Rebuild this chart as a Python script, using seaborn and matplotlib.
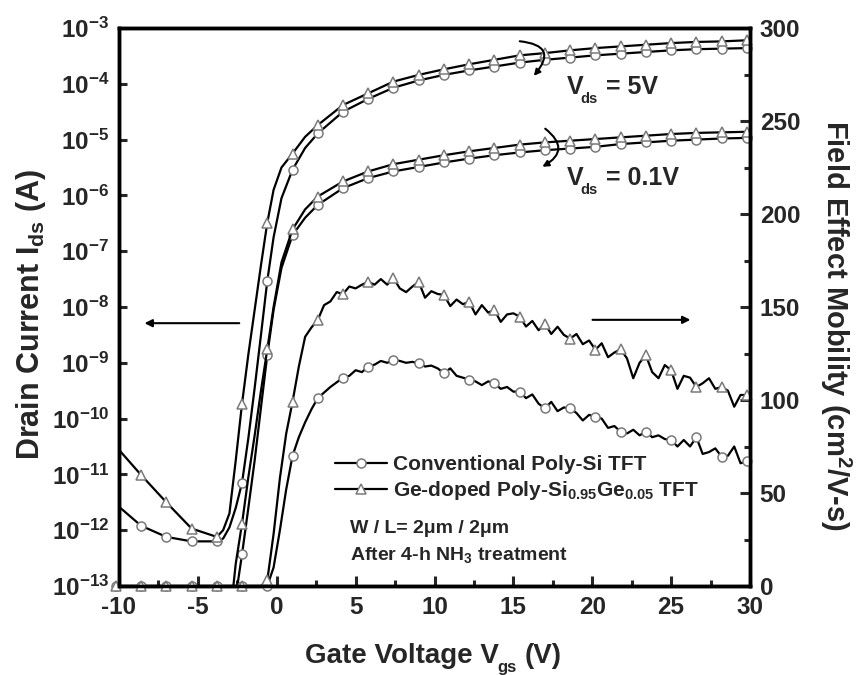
import numpy as np
import matplotlib
matplotlib.use('Agg')
import matplotlib.pyplot as plt
import seaborn as sns
from matplotlib.lines import Line2D
from matplotlib.patches import FancyArrowPatch
from matplotlib.ticker import MultipleLocator, NullLocator

sns.set_style('ticks')
plt.rcParams['font.family'] = ['Liberation Sans', 'DejaVu Sans']
plt.rcParams['font.weight'] = 'bold'
plt.rcParams['mathtext.fontset'] = 'custom'
plt.rcParams['mathtext.rm'] = 'Liberation Sans:bold'
plt.rcParams['mathtext.it'] = 'Liberation Sans:bold'
plt.rcParams['mathtext.bf'] = 'Liberation Sans:bold'
plt.rcParams['mathtext.default'] = 'rm'
plt.rcParams['axes.unicode_minus'] = False

# ---------------- data ----------------
# markers sit on the grid -10.2 + 1.6*k
MARK_X0 = -10.2
MARK_STEP = 1.6

x_hi = [1.0, 1.8, 2.6, 4.2, 5.8, 7.4, 9.0, 10.6, 12.2, 13.8, 15.4, 17.0,
        18.6, 20.2, 21.8, 23.4, 25.0, 26.6, 28.2, 29.8]

# Vds = 5 V transfer curves (log10 of Ids in A)
conv5_x = [-10.0, -8.6, -7.0, -5.4, -3.8, -3.4, -3.0, -2.6, -2.2, -1.8, -1.4,
           -1.0, -0.6, -0.2, 0.3] + x_hi
conv5_log = [-11.58, -11.92, -12.12, -12.2, -12.2, -12.15, -11.95, -11.6, -11.15,
             -10.35, -9.45, -8.5, -7.53, -6.75, -6.05,
             -5.54, -5.15, -4.89, -4.5, -4.27, -4.07, -3.94, -3.84, -3.76, -3.69,
             -3.62, -3.57, -3.53, -3.49, -3.46, -3.43, -3.40, -3.38, -3.37, -3.36]
ge5_x = [-10.0, -8.6, -7.0, -5.4, -3.8, -3.4, -3.0, -2.6, -2.2, -1.8, -1.4,
         -1.0, -0.6, -0.2, 0.3] + x_hi
ge5_log = [-10.56, -11.01, -11.5, -11.97, -12.12, -12.0, -11.7, -10.75, -9.73,
           -8.85, -8.05, -7.25, -6.49, -5.9, -5.5,
           -5.25, -4.95, -4.74, -4.38, -4.17, -3.96, -3.84, -3.74, -3.65, -3.57,
           -3.49, -3.45, -3.40, -3.36, -3.33, -3.30, -3.27, -3.25, -3.24, -3.22]

# Vds = 0.1 V transfer curves
conv01_x = [-2.5, -2.2, -1.8, -1.4, -1.0, -0.6, -0.2, 0.3] + x_hi
conv01_log = [-13.0, -12.43, -11.6, -10.75, -9.8, -8.86, -8.05, -7.3,
              -6.71, -6.4, -6.17, -5.87, -5.69, -5.57, -5.49, -5.41, -5.34, -5.28,
              -5.23, -5.19, -5.16, -5.13, -5.08, -5.05, -5.02, -5.0, -4.98, -4.97]
ge01_x = [-2.75, -2.6, -2.2, -1.8, -1.4, -1.0, -0.6, -0.2, 0.3] + x_hi
ge01_log = [-13.0, -12.6, -11.88, -11.05, -10.3, -9.5, -8.76, -8.0, -7.2,
            -6.61, -6.25, -6.02, -5.75, -5.57, -5.44, -5.36, -5.28, -5.21, -5.15,
            -5.09, -5.05, -5.02, -4.99, -4.96, -4.93, -4.9, -4.88, -4.87, -4.86]

# Field effect mobility (cm2/V-s)
mob_x = [-10.2, -8.6, -7.0, -5.4, -3.8, -2.2] + list(np.round(np.arange(-1.0, 29.85, 0.4), 1))
mob_conv = [0, 0, 0, 0, 0, 0,
            0, 0, 10, 30, 52, 70, 80, 88, 95, 101,
            104, 107, 109.5, 112, 113, 116, 115, 118, 119, 121,
            120, 121.5, 121, 120, 120.5, 119.7, 118, 118.5, 117, 114.4,
            117, 113, 112, 111, 110, 108, 110, 109, 106, 107,
            104.5, 104.5, 101, 103, 98, 95.5, 99, 94, 96, 95.5,
            93, 89, 92, 91, 90, 85, 86, 83, 82, 84,
            81, 83, 80, 81, 79, 78.5, 75, 78.5, 75, 80,
            71, 72, 74, 69.5, 70, 75, 66, 67]
mob_ge = [0, 0, 0, 0, 0, 0,
          0, 3, 28, 58, 82, 99, 118, 134, 139, 143,
          151, 153, 158, 157, 161, 160, 162, 163.5, 162, 165,
          162, 165.5, 160, 158, 161, 163.5, 155, 158.5, 157, 156.5,
          150.5, 154, 151.5, 152.8, 146, 151, 147, 148.4, 142, 146,
          146.6, 144.8, 139.5, 142.5, 137.5, 141, 135.5, 139.4, 135, 133,
          135.5, 130, 132, 127, 130.5, 123, 125.5, 127.3, 122.4, 111.7,
          120, 124, 115, 111.7, 118.8, 116, 106, 113, 112, 107,
          109, 111.7, 106, 107, 105, 96.4, 102.7, 102.7]

x_ticks = [-10, -5, 0, 5, 10, 15, 20, 25, 30]
x_tick_labels = ['-10', '-5', '0', '5', '10', '15', '20', '25', '30']
y_exponents = [-13, -12, -11, -10, -9, -8, -7, -6, -5, -4, -3]
y2_ticks = [0, 50, 100, 150, 200, 250, 300]

legend_labels = ['Conventional Poly-Si TFT',
                 r'Ge-doped Poly-Si$_{0.95}$Ge$_{0.05}$ TFT']


# ---------------- drawing ----------------
def marks(xs):
    idx = []
    for i, v in enumerate(xs):
        r = (v - MARK_X0) / MARK_STEP
        if abs(r - round(r)) < 1e-6:
            idx.append(i)
    return idx


MEC = '#7a7a7a'


def draw(ax, xs, ys, marker, ms):
    sns.lineplot(x=list(xs), y=list(ys), ax=ax, color='black', linewidth=1.6,
                 marker=marker, markevery=marks(xs), markersize=ms,
                 markerfacecolor='white', markeredgecolor=MEC,
                 markeredgewidth=1.1, estimator=None, sort=False,
                 clip_on=False, legend=False)


def sub_label(host, trans, x, y, main, sub, rest, size, sub_size, sub_dx, sub_dy, gap):
    """Text with a low subscript: main + sub (dropped) + rest, all on one baseline."""
    t1 = host.text(x, y, main, transform=trans, fontsize=size, fontweight='bold',
                   ha='left', va='baseline', clip_on=False)
    t2 = host.annotate(sub, xy=(1, y), xycoords=(t1, trans), xytext=(sub_dx, sub_dy),
                       textcoords='offset pixels', fontsize=sub_size,
                       fontweight='bold', ha='left', va='baseline',
                       annotation_clip=False)
    host.annotate(rest, xy=(1, y), xycoords=(t2, trans), xytext=(gap, 0),
                  textcoords='offset pixels', fontsize=size, fontweight='bold',
                  ha='left', va='baseline', annotation_clip=False)


fig = plt.figure(figsize=(8.58, 6.75), dpi=100)
ax = fig.add_axes([119 / 858, 89 / 675, 631 / 858, 558 / 675])
ax.set_yscale('log')
ax.set_xlim(-10, 30)
ax.set_ylim(1e-13, 1e-3)

draw(ax, conv5_x, 10.0 ** np.array(conv5_log), 'o', 6.5)
draw(ax, ge5_x, 10.0 ** np.array(ge5_log), '^', 7.5)
draw(ax, conv01_x, 10.0 ** np.array(conv01_log), 'o', 6.5)
draw(ax, ge01_x, 10.0 ** np.array(ge01_log), '^', 7.5)

ax2 = ax.twinx()
ax2.set_ylim(0, 300)
draw(ax2, mob_x, mob_conv, 'o', 6.5)
draw(ax2, mob_x, mob_ge, '^', 7.5)
ax2.set_xlim(-10, 30)

# ticks
ax.set_xticks(x_ticks)
ax.set_xticklabels(x_tick_labels)
ax.xaxis.set_minor_locator(MultipleLocator(2.5))
ax.set_yticks([10.0 ** e for e in y_exponents])
ax.set_yticklabels([r'$10^{%d}$' % e for e in y_exponents])
ax.yaxis.set_minor_locator(NullLocator())
ax.tick_params(axis='x', which='major', direction='in', length=7, width=2.2,
               labelsize=17.5, pad=7, top=False)
ax.tick_params(axis='x', which='minor', direction='in', length=4, width=2.2, top=False)
ax.tick_params(axis='y', which='major', direction='in', length=6, width=2.2,
               labelsize=17.5, pad=7, right=False)
ax.set_xlabel('')
ax.set_ylabel('')

ax2.set_yticks(y2_ticks)
ax2.set_yticklabels([str(v) for v in y2_ticks])
ax2.yaxis.set_minor_locator(MultipleLocator(25))
ax2.tick_params(axis='y', which='major', direction='in', length=7, width=2.2,
                labelsize=17.5, pad=7)
ax2.tick_params(axis='y', which='minor', direction='in', length=4, width=2.2)
ax2.set_ylabel('')

for a in (ax, ax2):
    for s in a.spines.values():
        s.set_linewidth(2.5)
        s.set_color('black')
        s.set_visible(True)

# axis labels
sub_label(ax2, fig.transFigure, 305 / 858, 1 - 663 / 675, 'Gate Voltage V', 'gs', '(V)',
          20, 12, -1, -9, 7)
fig.text(31 / 858, 1 - 315 / 675, r'Drain Current I$_{ds}$ (A)', ha='center',
         va='center', rotation=90, fontsize=22, fontweight='bold')
fig.text(835.5 / 858, 1 - 326 / 675, r'Field Effect Mobility (cm$^2$/V-s)',
         ha='center', va='center', rotation=270, fontsize=21, fontweight='bold')

# annotations
sub_label(ax2, ax2.transAxes, (567 - 119) / 631, (586 - 94) / 558, 'V', 'ds', '= 5V',
          18, 10.5, -3, -9, 8)
sub_label(ax2, ax2.transAxes, (567 - 119) / 631, (586 - 185) / 558, 'V', 'ds', '= 0.1V',
          18, 10.5, -3, -9, 8)

arrows = [((0.6307, 0.9767), (0.6545, 0.9104), 'arc3,rad=-1.0', 9),
          ((0.672, 0.8226), (0.667, 0.749), 'arc3,rad=-0.8', 9),
          ((0.195, 0.471), (0.036, 0.471), 'arc3,rad=0', 11),
          ((0.746, 0.477), (0.910, 0.477), 'arc3,rad=0', 11)]
for pa, pb, cs, msc in arrows:
    ar = FancyArrowPatch(pa, pb, transform=ax2.transAxes, arrowstyle='-|>',
                         mutation_scale=msc, lw=1.5, color='black',
                         connectionstyle=cs, clip_on=False)
    ax2.add_patch(ar)

handles = [Line2D([], [], color='black', lw=1.6, marker='o', ms=6.5,
                  mfc='white', mec=MEC, mew=1.1),
           Line2D([], [], color='black', lw=1.6, marker='^', ms=7.5,
                  mfc='white', mec=MEC, mew=1.1)]
ax2.legend(handles, legend_labels, loc='upper left',
           bbox_to_anchor=((335 - 119) / 631, (586 - 455) / 558),
           frameon=False, borderpad=0, borderaxespad=0, handlelength=2.5,
           handletextpad=0.3, labelspacing=0.25,
           prop={'size': 15, 'weight': 'bold'})

ax2.text((350 - 119) / 631, (586 - 533) / 558, 'W / L= 2\u03bcm / 2\u03bcm',
         transform=ax2.transAxes, fontsize=14, fontweight='bold', va='baseline')
ax2.text((350 - 119) / 631, (586 - 560) / 558, r'After 4-h NH$_3$ treatment',
         transform=ax2.transAxes, fontsize=14, fontweight='bold', va='baseline')

fig.savefig('out.png', dpi=100)
